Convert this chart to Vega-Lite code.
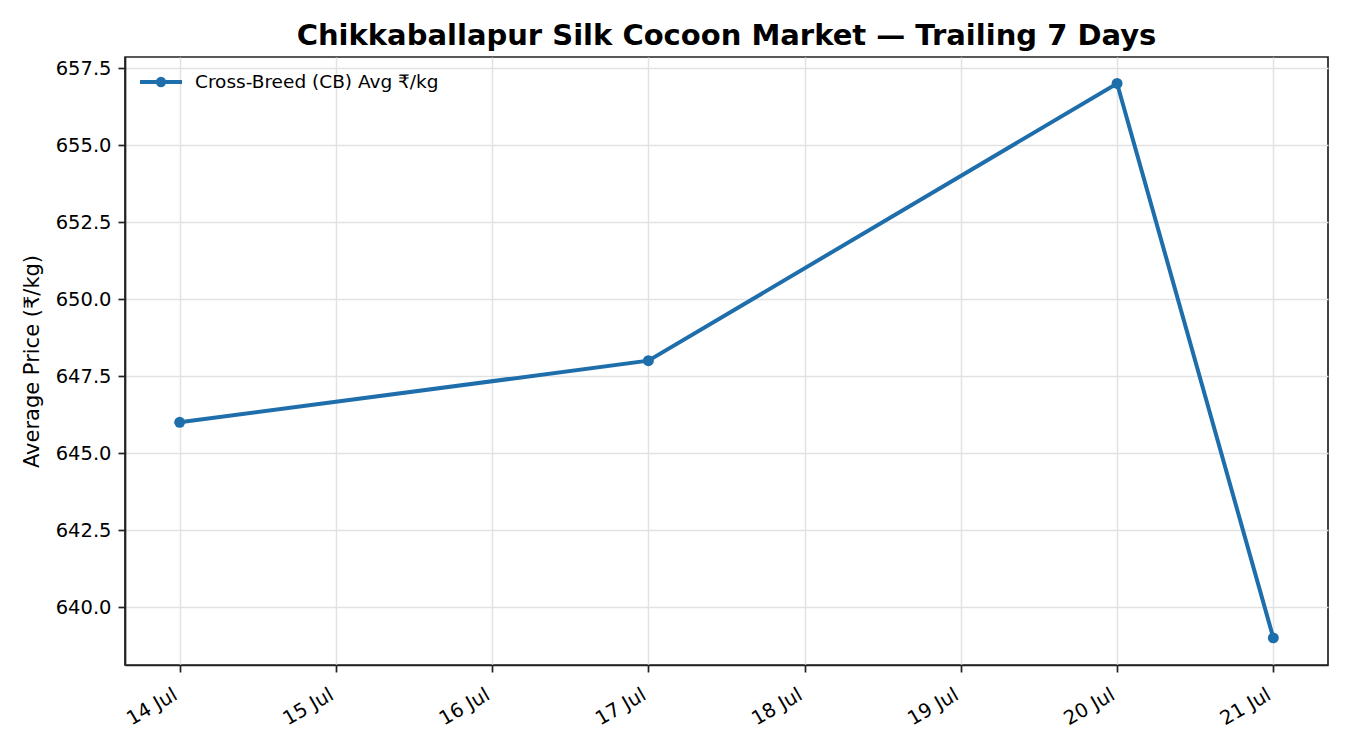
{
  "$schema": "https://vega.github.io/schema/vega-lite/v6.json",
  "width": 1203,
  "height": 608,
  "autosize": {"type": "none"},
  "padding": {"left": 125, "top": 57, "right": 22, "bottom": 85},
  "background": "white",
  "config": {
    "font": "DejaVu Sans",
    "view": {"stroke": "#222222", "strokeWidth": 1.7},
    "axis": {
      "labelFont": "DejaVu Sans",
      "titleFont": "DejaVu Sans",
      "labelFontSize": 19.5,
      "titleFontSize": 21,
      "titleFontWeight": "normal",
      "labelColor": "#000000",
      "titleColor": "#000000",
      "domainColor": "#222222",
      "domainWidth": 1.7,
      "tickColor": "#222222",
      "tickWidth": 1.7,
      "tickSize": 7,
      "gridColor": "#e2e2e2",
      "gridWidth": 1.5
    }
  },
  "title": {
    "text": "Chikkaballapur Silk Cocoon Market — Trailing 7 Days",
    "font": "DejaVu Sans",
    "fontSize": 29,
    "fontWeight": "bold",
    "color": "#000000",
    "anchor": "middle",
    "offset": 6
  },
  "data": {
    "values": [
      {"date": "2024-07-14", "price": 646, "series": "Cross-Breed (CB) Avg ₹/kg"},
      {"date": "2024-07-17", "price": 648, "series": "Cross-Breed (CB) Avg ₹/kg"},
      {"date": "2024-07-20", "price": 657, "series": "Cross-Breed (CB) Avg ₹/kg"},
      {"date": "2024-07-21", "price": 639, "series": "Cross-Breed (CB) Avg ₹/kg"}
    ]
  },
  "mark": {"type": "line", "strokeWidth": 4, "point": {"size": 120, "filled": true, "opacity": 1}},
  "encoding": {
    "x": {
      "field": "date",
      "type": "temporal",
      "scale": {"type": "utc", "domain": [1720884960000, 1721550240000]},
      "axis": {
        "title": null,
        "format": "%d %b",
        "tickCount": {"interval": "day", "step": 1},
        "labelAngle": -30,
        "labelAlign": "right",
        "labelBaseline": "top",
        "labelPadding": 13,
        "labelOffset": -9,
        "labelOverlap": false,
        "labelFlush": false
      }
    },
    "y": {
      "field": "price",
      "type": "quantitative",
      "scale": {"domain": [638.12, 657.86], "zero": false, "nice": false},
      "axis": {
        "title": "Average Price (₹/kg)",
        "values": [640, 642.5, 645, 647.5, 650, 652.5, 655, 657.5],
        "format": ".1f",
        "labelPadding": 7,
        "titlePadding": 13
      }
    },
    "color": {
      "field": "series",
      "type": "nominal",
      "scale": {"range": ["#1f6eac"]},
      "legend": {
        "title": null,
        "orient": "none",
        "legendX": 13,
        "legendY": 2,
        "labelFont": "DejaVu Sans",
        "labelFontSize": 18.5,
        "labelColor": "#000000",
        "labelLimit": 0,
        "symbolType": "M-1,0H1M0.15,0A0.15,0.15 0 1 1 -0.15,0A0.15,0.15 0 1 1 0.15,0Z",
        "symbolSize": 1764,
        "symbolStrokeWidth": 4,
        "symbolFillColor": "#1f6eac",
        "symbolStrokeColor": "#1f6eac",
        "labelOffset": 11
      }
    }
  }
}
